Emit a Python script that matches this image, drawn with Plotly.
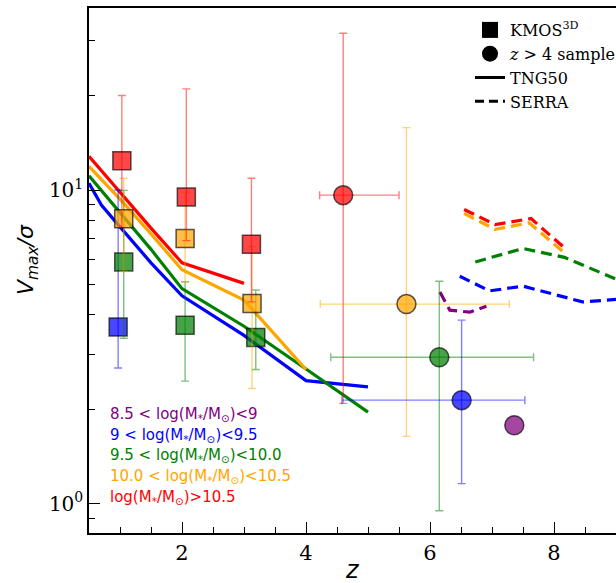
import plotly.graph_objects as go

# ---------------- data ----------------
# KMOS3D (squares): redshift, Vmax/sigma, lower / upper error ends
kmos_red_z = [1.03, 2.07, 3.12]
kmos_red_v = [12.4, 9.5, 6.72]
kmos_red_lo = [7.6, 6.9, 4.4]
kmos_red_hi = [20.0, 21.0, 10.9]

kmos_orange_z = [1.06, 2.05, 3.13]
kmos_orange_v = [8.1, 7.0, 4.35]
kmos_orange_lo = [5.5, 5.1, 2.33]
kmos_orange_hi = [10.9, 9.84, 6.6]

kmos_green_z = [1.06, 2.05, 3.19]
kmos_green_v = [5.9, 3.71, 3.39]
kmos_green_lo = [3.37, 2.46, 2.68]
kmos_green_hi = [9.97, 5.1, 4.8]

kmos_blue_z = [0.97]
kmos_blue_v = [3.66]
kmos_blue_lo = [2.71]
kmos_blue_hi = [10.0]

# z > 4 sample (circles)
circ_color = ["red", "orange", "green", "blue", "purple"]
circ_z = [4.60, 5.62, 6.15, 6.51, 7.36]
circ_v = [9.63, 4.33, 2.93, 2.14, 1.78]
circ_v_lo = [2.09, 1.64, 0.95, 1.16, None]
circ_v_hi = [31.6, 15.8, 5.12, 3.85, None]
circ_z_lo = [4.22, 4.23, 4.40, 4.58, None]
circ_z_hi = [5.50, 7.28, 7.67, 7.53, None]

# TNG50 (solid lines)
tng_red_z = [0.5, 1, 1.5, 2, 3]
tng_red_v = [12.8, 9.8, 7.56, 5.86, 5.04]
tng_orange_z = [0.5, 1, 1.5, 2, 3, 4]
tng_orange_v = [11.9, 9.35, 7.25, 5.57, 4.46, 2.68]
tng_green_z = [0.5, 1, 1.5, 2, 3, 4, 5]
tng_green_v = [11.1, 8.5, 6.47, 4.85, 3.68, 2.69, 1.96]
tng_blue_z = [0.5, 0.7, 1, 1.5, 2, 3, 4, 5]
tng_blue_v = [10.5, 8.95, 7.63, 5.86, 4.6, 3.44, 2.47, 2.36]

# SERRA (dashed lines)
serra_purple_z = [6.16, 6.32, 6.64, 6.91]
serra_purple_v = [4.73, 4.14, 4.08, 4.26]
serra_blue_z = [6.48, 6.96, 7.50, 8.46, 9.0]
serra_blue_v = [5.31, 4.77, 4.94, 4.40, 4.48]
serra_green_z = [6.73, 7.50, 8.17, 9.0]
serra_green_v = [5.90, 6.51, 6.10, 5.2]
serra_orange_z = [6.55, 7.05, 7.60, 8.15]
serra_orange_v = [8.42, 7.49, 7.86, 6.35]
serra_red_z = [6.55, 7.05, 7.63, 8.15]
serra_red_v = [8.67, 7.76, 8.11, 6.59]

mass_labels = [
    "8.5 < log(M<sub>*</sub>/M<sub>⊙</sub>)<9",
    "9 < log(M<sub>*</sub>/M<sub>⊙</sub>)<9.5",
    "9.5 < log(M<sub>*</sub>/M<sub>⊙</sub>)<10.0",
    "10.0 < log(M<sub>*</sub>/M<sub>⊙</sub>)<10.5",
    "log(M<sub>*</sub>/M<sub>⊙</sub>)>10.5",
]
mass_colors = ["purple", "blue", "green", "orange", "red"]

x_major = [2, 4, 6, 8]
x_minor = [1, 1.5, 2.5, 3, 3.5, 4.5, 5, 5.5, 6.5, 7, 7.5, 8.5]
y_major = [1, 10]
y_major_text = ["10<sup>0</sup>", "10<sup>1</sup>"]
y_minor = [0.9, 2, 3, 4, 5, 6, 7, 8, 9, 20, 30]

# ---------------- style ----------------
RGB = {"red": "255,0,0", "orange": "255,165,0", "green": "0,128,0",
       "blue": "0,0,255", "purple": "128,0,128"}


def rgba(c, a):
    return f"rgba({RGB[c]},{a})"


fig = go.Figure()

# TNG50 lines
for c, zs, vs in [("blue", tng_blue_z, tng_blue_v), ("green", tng_green_z, tng_green_v),
                  ("orange", tng_orange_z, tng_orange_v), ("red", tng_red_z, tng_red_v)]:
    fig.add_trace(go.Scatter(x=zs, y=vs, mode="lines", line=dict(color=rgba(c, 1), width=3.2),
                             showlegend=False, hoverinfo="skip"))

# SERRA lines
for c, zs, vs in [("purple", serra_purple_z, serra_purple_v), ("blue", serra_blue_z, serra_blue_v),
                  ("green", serra_green_z, serra_green_v), ("orange", serra_orange_z, serra_orange_v),
                  ("red", serra_red_z, serra_red_v)]:
    fig.add_trace(go.Scatter(x=zs, y=vs, mode="lines",
                             line=dict(color=rgba(c, 1), width=3.2, dash="11px,6px"),
                             showlegend=False, hoverinfo="skip"))

# KMOS3D squares
for c, zs, vs, lo, hi in [("blue", kmos_blue_z, kmos_blue_v, kmos_blue_lo, kmos_blue_hi),
                          ("green", kmos_green_z, kmos_green_v, kmos_green_lo, kmos_green_hi),
                          ("orange", kmos_orange_z, kmos_orange_v, kmos_orange_lo, kmos_orange_hi),
                          ("red", kmos_red_z, kmos_red_v, kmos_red_lo, kmos_red_hi)]:
    fig.add_trace(go.Scatter(
        x=zs, y=vs, mode="markers",
        marker=dict(symbol="square", size=18, color=rgba(c, 0.72),
                    line=dict(color="rgba(0,0,0,0.65)", width=1.5)),
        error_y=dict(type="data", symmetric=False,
                     array=[h - v for h, v in zip(hi, vs)],
                     arrayminus=[v - l for l, v in zip(lo, vs)],
                     color=rgba(c, 0.5), thickness=1.4, width=4),
        showlegend=False, hoverinfo="skip"))

# z > 4 circles
for c, z, v, vlo, vhi, zlo, zhi in zip(circ_color, circ_z, circ_v, circ_v_lo, circ_v_hi,
                                       circ_z_lo, circ_z_hi):
    kw = {}
    if vlo is not None:
        kw["error_y"] = dict(type="data", symmetric=False, array=[vhi - v], arrayminus=[v - vlo],
                             color=rgba(c, 0.5), thickness=1.4, width=4)
        kw["error_x"] = dict(type="data", symmetric=False, array=[zhi - z], arrayminus=[z - zlo],
                             color=rgba(c, 0.5), thickness=1.4, width=4)
    fig.add_trace(go.Scatter(
        x=[z], y=[v], mode="markers",
        marker=dict(symbol="circle", size=19, color=rgba(c, 0.72),
                    line=dict(color="rgba(0,0,0,0.65)", width=1.5)),
        showlegend=False, hoverinfo="skip", **kw))

# legend entries
fig.add_trace(go.Scatter(x=[None], y=[None], mode="markers", name="KMOS<sup>3D</sup>",
                         marker=dict(symbol="square", size=18, color="black")))
fig.add_trace(go.Scatter(x=[None], y=[None], mode="markers", name="<i>z</i> > 4 sample",
                         marker=dict(symbol="circle", size=18, color="black")))
fig.add_trace(go.Scatter(x=[None], y=[None], mode="lines", name="TNG50",
                         line=dict(color="black", width=3)))
fig.add_trace(go.Scatter(x=[None], y=[None], mode="lines", name="SERRA",
                         line=dict(color="black", width=3, dash="9px,5px")))

# mass bin labels
for i, (t, c) in enumerate(zip(mass_labels, mass_colors)):
    fig.add_annotation(text=t, xref="paper", yref="paper", x=0.036,
                       y=(533 - (414.5 + i * 20.75)) / 525, xanchor="left", yanchor="middle",
                       showarrow=False, font=dict(family="DejaVu Sans", size=15, color=rgba(c, 1)))

# axis titles
fig.add_annotation(text="<i>z</i>", xref="paper", yref="paper", x=0.5, y=(533 - 570) / 525,
                   xanchor="center", yanchor="middle", showarrow=False,
                   font=dict(family="DejaVu Sans", size=24, color="black"))
fig.add_annotation(text="<i>V</i><sub><i>max</i></sub><i>/σ</i>", xref="paper", yref="paper",
                   x=(27 - 89) / 527, y=(533 - 260) / 525, textangle=-90,
                   xanchor="center", yanchor="middle", showarrow=False,
                   font=dict(family="DejaVu Sans", size=22, color="black"))

fig.update_layout(
    width=616, height=583,
    margin=dict(l=89, r=0, t=8, b=50, autoexpand=False),
    plot_bgcolor="white", paper_bgcolor="white",
    showlegend=True,
    legend=dict(x=(470 - 89) / 527, y=(533 - 13) / 525, xanchor="left", yanchor="top",
                bgcolor="rgba(0,0,0,0)", font=dict(family="DejaVu Serif", size=16, color="black"),
                itemsizing="trace", tracegroupgap=0),
    xaxis=dict(range=[0.5, 9.0], showgrid=False, zeroline=False, automargin=False,
               showline=True, linecolor="black", linewidth=1.5, mirror=True,
               ticks="inside", ticklen=11, tickwidth=1.3, tickcolor="black",
               tickmode="array", tickvals=x_major,
               tickfont=dict(family="DejaVu Serif", size=21, color="black"),
               minor=dict(tickmode="array", tickvals=x_minor, ticks="inside", ticklen=6,
                          tickwidth=1.1, tickcolor="black", showgrid=False)),
    yaxis=dict(type="log", range=[-0.093, 1.58], showgrid=False, zeroline=False, automargin=False,
               showline=True, linecolor="black", linewidth=1.5, mirror=False,
               ticks="inside", ticklen=11, tickwidth=1.3, tickcolor="black",
               tickmode="array", tickvals=y_major, ticktext=y_major_text,
               tickfont=dict(family="DejaVu Serif", size=20, color="black"),
               minor=dict(tickmode="array", tickvals=y_minor, ticks="inside", ticklen=6,
                          tickwidth=1.1, tickcolor="black", showgrid=False)),
)

fig.write_html("out.html", config={"displayModeBar": False},
               post_script="document.body.style.margin='0px';")
